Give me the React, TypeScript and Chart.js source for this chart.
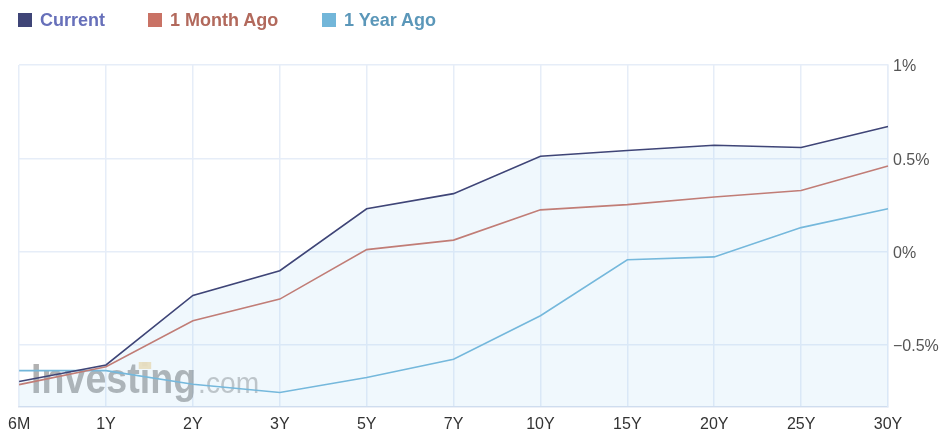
import React, { useEffect, useRef } from "react";
import { Chart, registerables } from "chart.js";

Chart.register(...registerables);

const categories = ["6M", "1Y", "2Y", "3Y", "5Y", "7Y", "10Y", "15Y", "20Y", "25Y", "30Y"];
const current = [-0.695, -0.607, -0.234, -0.102, 0.23, 0.311, 0.511, 0.542, 0.57, 0.558, 0.671];
const monthAgo = [-0.712, -0.616, -0.37, -0.254, 0.011, 0.062, 0.224, 0.252, 0.293, 0.328, 0.459];
const yearAgo = [-0.637, -0.637, -0.71, -0.754, -0.674, -0.576, -0.343, -0.043, -0.028, 0.129, 0.23];
const yTicks = [-0.5, 0, 0.5, 1];
const seriesNames = ["Current", "1 Month Ago", "1 Year Ago"];
const boxColors = ["#3f4577", "#c97265", "#72b6d9"];
const textColors = ["#6770ba", "#b2695c", "#5b97b9"];

const watermark = {
  id: "watermark",
  beforeDatasetsDraw(chart: any) {
    const { ctx, chartArea } = chart;
    const x = chartArea.left + 12;
    const y = chartArea.bottom - 14;
    ctx.save();
    ctx.font = 'bold 43px "Liberation Sans", Arial, sans-serif';
    const w = ctx.measureText("Investing").width;
    const sx = 165 / w;
    const preI = ctx.measureText("Invest").width * sx;
    const iW = ctx.measureText("i").width * sx;
    ctx.translate(x, y);
    ctx.scale(sx, 1);
    ctx.fillStyle = "rgba(125,125,125,0.6)";
    ctx.textBaseline = "alphabetic";
    ctx.fillText("Investing", 0, 0);
    ctx.restore();
    ctx.save();
    ctx.fillStyle = "#ffffff";
    ctx.globalAlpha = 1;
    ctx.fillStyle = "rgba(245,225,185,0.95)";
    ctx.fillRect(x + preI - 1, y - 31, iW + 2, 7);
    ctx.restore();
    ctx.save();
    ctx.font = '30px "Liberation Sans", Arial, sans-serif';
    const cw = ctx.measureText(".com").width;
    ctx.translate(x + 167, y);
    ctx.scale(61 / cw, 1);
    ctx.fillStyle = "rgba(140,140,140,0.5)";
    ctx.fillText(".com", 0, 0);
    ctx.restore();
  },
};

export default function App() {
  const ref = useRef<HTMLCanvasElement>(null);
  useEffect(() => {
    if (!ref.current) return;
    const chart = new Chart(ref.current, {
      type: "line",
      data: {
        labels: categories,
        datasets: [
          {
            label: seriesNames[0],
            data: current,
            borderColor: boxColors[0],
            backgroundColor: "rgba(140,200,240,0.13)",
            fill: "start",
            borderWidth: 1.6,
            pointRadius: 0,
            tension: 0,
          },
          {
            label: seriesNames[1],
            data: monthAgo,
            borderColor: boxColors[1],
            fill: false,
            borderWidth: 1.6,
            pointRadius: 0,
            tension: 0,
          },
          {
            label: seriesNames[2],
            data: yearAgo,
            borderColor: boxColors[2],
            fill: false,
            borderWidth: 1.6,
            pointRadius: 0,
            tension: 0,
          },
        ],
      },
      options: {
        responsive: false,
        animation: false,
        devicePixelRatio: 1,
        layout: { padding: { top: 65, left: 18, right: 0, bottom: 0 } },
        plugins: {
          legend: { display: false },
          tooltip: { enabled: false },
        },
        scales: {
          x: {
            offset: false,
            grid: { color: "#e6edf8", drawTicks: false, lineWidth: 1.5 },
            border: { color: "#d9e1ef", width: 1.5 },
            ticks: {
              color: "#333",
              padding: 8,
              maxRotation: 0,
              autoSkip: false,
              font: { family: '"Liberation Sans", Arial, sans-serif', size: 16 },
            },
            afterFit: (s: any) => {
              s.height = 35;
            },
          },
          y: {
            position: "right",
            min: -0.832,
            max: 1,
            afterBuildTicks: (s: any) => {
              s.ticks = yTicks.map((v) => ({ value: v }));
            },
            grid: { color: "#e6edf8", drawTicks: false, lineWidth: 1.5 },
            border: { color: "#e6edf8", width: 1.5 },
            ticks: {
              color: "#555",
              padding: 5,
              labelOffset: 2,
              font: { family: '"Liberation Sans", Arial, sans-serif', size: 16 },
              callback: (v: any) => (v < 0 ? "\u2212" + Math.abs(v) : String(v)) + "%",
            },
            afterFit: (s: any) => {
              s.width = 57;
            },
          },
        },
      },
      plugins: [watermark],
    });
    return () => chart.destroy();
  }, []);

  const legendX = [18, 148, 322];
  return (
    <div style={{ position: "absolute", left: 0, top: 0, width: 945, height: 442, background: "#fff" }}>
      <canvas ref={ref} width={945} height={442} style={{ position: "absolute", left: 0, top: 0 }} />
      {seriesNames.map((n, i) => (
        <div
          key={n}
          style={{
            position: "absolute",
            left: legendX[i],
            top: 9,
            height: 22,
            display: "flex",
            alignItems: "center",
            fontFamily: '"Liberation Sans", Arial, sans-serif',
            fontWeight: "bold",
            fontSize: 18,
            color: textColors[i],
            whiteSpace: "nowrap",
          }}
        >
          <span style={{ display: "inline-block", width: 14, height: 14, background: boxColors[i], marginRight: 8 }} />
          {n}
        </div>
      ))}
    </div>
  );
}
